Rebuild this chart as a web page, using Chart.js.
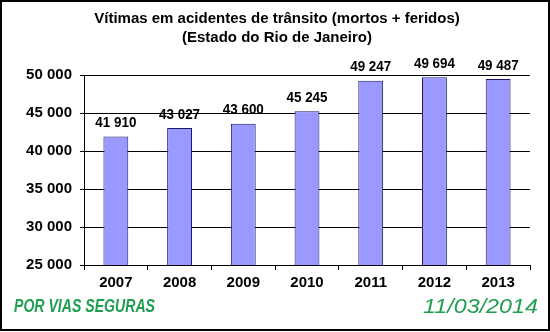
<!DOCTYPE html>
<html>
<head>
<meta charset="utf-8">
<script src="https://cdn.jsdelivr.net/npm/chart.js@4/dist/chart.umd.min.js"></script>
<style>
  html, body { margin: 0; padding: 0; background: #fff; }
  #wrap { width: 550px; height: 332px; position: relative; }
</style>
</head>
<body>
<div id="wrap"><canvas id="c" width="550" height="332"></canvas></div>
<script>
const years = ['2007', '2008', '2009', '2010', '2011', '2012', '2013'];
const victims = [41910, 43027, 43600, 45245, 49247, 49694, 49487];
const titleLines = ['Vítimas em acidentes de trânsito (mortos + feridos)', '(Estado do Rio de Janeiro)'];
const footerLeft = 'POR VIAS SEGURAS';
const footerRight = '11/03/2014';

const fmt = v => String(Math.round(v)).replace(/\B(?=(\d{3})+(?!\d))/g, ' ');
const FONT = '"Liberation Sans", Arial, sans-serif';

// draw text stretched/squeezed to a given width (reference uses other fonts)
function fitText(ctx, text, x, y, width, align) {
  const w = ctx.measureText(text).width;
  const sx = width / w;
  ctx.save();
  const left = align === 'right' ? x - width : align === 'center' ? x - width / 2 : x;
  ctx.translate(left, y);
  ctx.scale(sx, 1);
  ctx.textAlign = 'left';
  ctx.fillText(text, 0, 0);
  ctx.restore();
}

const decor = {
  id: 'decor',
  afterDatasetsDraw(chart) {
    const ctx = chart.ctx;
    const meta = chart.getDatasetMeta(0);
    ctx.save();
    ctx.fillStyle = '#000';
    ctx.font = 'bold 15px ' + FONT;
    ctx.textBaseline = 'bottom';
    meta.data.forEach((bar, i) => {
      fitText(ctx, fmt(victims[i]), bar.x, bar.y - 6, 41, 'center');
    });
    ctx.restore();
  },
  afterDraw(chart) {
    const ctx = chart.ctx;
    ctx.save();
    // title
    ctx.fillStyle = '#000';
    ctx.font = 'bold 15px ' + FONT;
    ctx.textAlign = 'center';
    ctx.textBaseline = 'middle';
    ctx.fillText(titleLines[0], 277, 19);
    ctx.fillText(titleLines[1], 277, 38);
    // footer
    ctx.fillStyle = '#1f9e50';
    ctx.font = 'italic bold 18px ' + FONT;
    fitText(ctx, footerLeft, 14, 307, 141, 'left');
    ctx.font = 'italic 20px ' + FONT;
    fitText(ctx, footerRight, 538, 307, 115, 'right');
    // outer border
    ctx.strokeStyle = '#000';
    ctx.lineWidth = 2;
    ctx.strokeRect(1, 1, 548, 329);
    ctx.restore();
  }
};

new Chart(document.getElementById('c'), {
  type: 'bar',
  data: {
    labels: years,
    datasets: [{
      data: victims,
      backgroundColor: '#9999ff',
      borderColor: '#1a1a66',
      borderWidth: 1,
      barPercentage: 0.39,
      categoryPercentage: 1.0
    }]
  },
  options: {
    responsive: false,
    animation: false,
    layout: { padding: { left: 0, right: 20, top: 75, bottom: 0 } },
    plugins: { legend: { display: false }, tooltip: { enabled: false }, title: { display: false } },
    scales: {
      x: {
        grid: { offset: true, drawOnChartArea: false, color: '#000', tickLength: 5 },
        border: { color: '#000' },
        ticks: { color: '#000', font: { family: FONT, size: 15, weight: 'bold' }, padding: 4 },
        afterFit: s => { s.height = 67; }
      },
      y: {
        min: 25000,
        max: 50000,
        ticks: { stepSize: 5000, color: '#000', font: { family: FONT, size: 15, weight: 'bold' }, padding: 8, callback: v => fmt(v) },
        grid: { color: '#000', tickLength: 4 },
        border: { color: '#000' },
        afterFit: s => { s.width = 84; }
      }
    }
  },
  plugins: [decor]
});
</script>
</body>
</html>
